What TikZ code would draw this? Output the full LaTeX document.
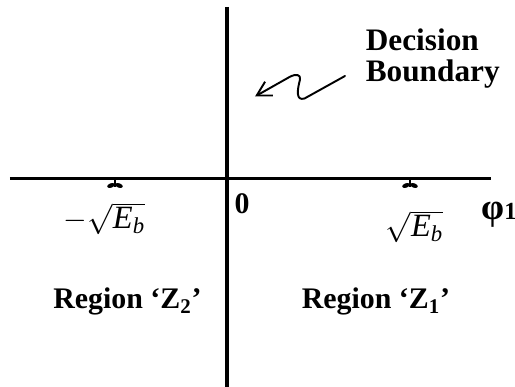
\documentclass[tikz,border=0pt]{standalone}
\usepackage{amsmath}
\usepackage{fontspec}
\setmainfont{Liberation Serif}
\usepackage{tikz}
\usetikzlibrary{arrows.meta, positioning}

\begin{document}
\begin{tikzpicture}[
    axis/.style={line width=1.8pt},
    lbl/.style={font=\bfseries\fontsize{17}{18}\selectfont, inner sep=0pt},
    mlbl/.style={font=\fontsize{18.5}{19}\selectfont, inner sep=0pt},
    pointer/.style={line width=1.1pt, line cap=round, line join=round,
        -{Straight Barb[length=8pt, width=9pt, line width=1.1pt]}}
]
\useasboundingbox (-4.54,-4.17) rectangle (5.76,3.57);

% axes
\coordinate (xl) at (-4.34,0);
\coordinate (xr) at (5.28,0);
\coordinate (yt) at (0,3.43);
\coordinate (yb) at (0,-4.17);
\draw[axis] (xl) -- (xr);
\draw[axis] (yt) -- (yb);

% signal points
\foreach \mx in {-2.24,3.66} {
  \draw[line width=0.8pt] (\mx,0) -- (\mx,-0.17);
  \fill[rotate around={20:(\mx-0.08,-0.14)}] (\mx-0.08,-0.14) ellipse (0.08 and 0.045);
  \fill[rotate around={-20:(\mx+0.08,-0.14)}] (\mx+0.08,-0.14) ellipse (0.08 and 0.045);
}

\node[mlbl] (s2) at (-2.45,-0.8) {$-\sqrt{\textit{E}_{\textit{b}}}$};
\node[mlbl] (s1) at (3.75,-0.96) {$\sqrt{\textit{E}_{\textit{b}}}$};
\node[lbl] (o) at (0.3,-0.51) {0};
\node[mlbl] (phi) at (5.44,-0.72) {\fontsize{21}{21}\selectfont\bfseries φ{\fontsize{14}{14}\selectfont 1}};

\node[lbl, font=\bfseries\fontsize{17.8}{18}\selectfont, anchor=base west, align=left] (db) at (2.77,1.93) {Decision\\Boundary};

\node[lbl, anchor=base] (z2) at (-1.99,-2.61) {Region ‘Z\textsubscript{2}’};
\node[lbl, anchor=base] (z1) at (2.98,-2.61) {Region ‘Z\textsubscript{1}’};

% pointer to the boundary
\coordinate (sq) at (2.36,2.05);
\coordinate (tip) at (0.56,1.64);
\draw[pointer] (sq) -- (1.55,1.60) .. controls (1.38,1.55) and (1.40,1.75) .. (1.46,1.98)
    .. controls (1.48,2.08) and (1.38,2.10) .. (1.25,2.03) -- (tip);

\end{tikzpicture}
\end{document}
